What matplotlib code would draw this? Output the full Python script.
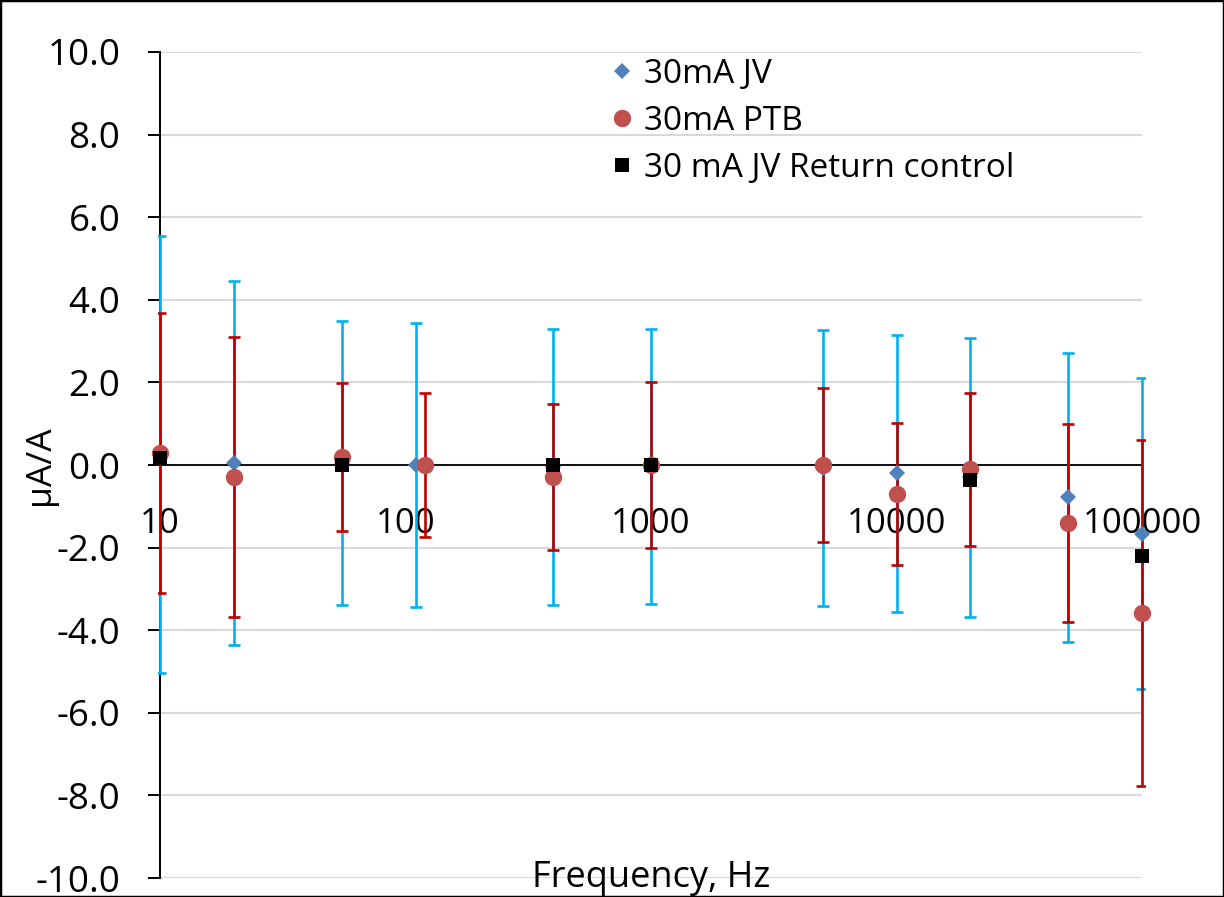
import matplotlib
matplotlib.use("Agg")
import matplotlib.pyplot as plt
import numpy as np
from matplotlib.patches import Rectangle
from matplotlib.transforms import Bbox

plt.rcParams['font.family'] = ['Open Sans', 'DejaVu Sans']

# 30mA JV (blue diamonds, light blue error bars)
jv_freq = [10, 20, 55, 110, 400, 1000, 5000, 10000, 20000, 50000, 100000]
jv_val = [0.26, 0.05, 0.05, 0.0, -0.04, -0.03, -0.08, -0.2, -0.3, -0.78, -1.66]
jv_err = [5.29, 4.4, 3.44, 3.43, 3.34, 3.33, 3.34, 3.35, 3.38, 3.5, 3.77]

# 30mA PTB (red circles, dark red error bars)
ptb_freq = [10, 20, 55, 120, 400, 1000, 5000, 10000, 20000, 50000, 100000]
ptb_val = [0.3, -0.3, 0.2, 0.0, -0.3, 0.0, 0.0, -0.7, -0.1, -1.4, -3.59]
ptb_err = [3.39, 3.39, 1.79, 1.75, 1.77, 2.0, 1.87, 1.71, 1.85, 2.39, 4.19]

# 30 mA JV Return control (black squares)
rc_freq = [10, 55, 400, 1000, 20000, 100000]
rc_val = [0.16, 0.0, 0.0, 0.0, -0.37, -2.21]

x_ticks = [10, 100, 1000, 10000, 100000]
x_labels = ['10', '100', '1000', '10000', '100000']
y_ticks = [-10, -8, -6, -4, -2, 0, 2, 4, 6, 8, 10]
y_labels = ['%.1f' % v for v in y_ticks]

fig = plt.figure(figsize=(12.24, 8.97), dpi=100)
ax = fig.add_axes([160 / 1224, 19 / 897, 982 / 1224, 826 / 897])

# error bars first, red on top of blue, both over the left spine
eb_jv = ax.errorbar(jv_freq, jv_val, yerr=jv_err, fmt='none', ecolor='#00B0F0',
                    elinewidth=1.9, capsize=4.5, capthick=1.9, zorder=2.6)
eb_ptb = ax.errorbar(ptb_freq, ptb_val, yerr=ptb_err, fmt='none', ecolor='#C00000',
                     elinewidth=1.9, capsize=4.5, capthick=1.9, zorder=2.7)

# clip error bars a little outside the plot area so edge bars are whole
clip = Bbox.from_extents(158, 0, 1145, 897)
for eb in (eb_jv, eb_ptb):
    for art in eb.lines[1] + eb.lines[2]:
        art.set_clip_box(clip)

ax.plot(jv_freq, jv_val, 'D', color='#4F81BD', ms=8.5, mew=0,
        label='30mA JV', zorder=4, clip_on=False)
ax.plot(ptb_freq, ptb_val, 'o', color='#C0504D', ms=12.5, mew=0,
        label='30mA PTB', zorder=5, clip_on=False)
ax.plot(rc_freq, rc_val, 's', color='black', ms=10.5, mew=0,
        label='30 mA JV Return control', zorder=6, clip_on=False)

ax.set_xscale('log')
ax.set_xlim(10, 100000)
ax.set_ylim(-10, 10)
ax.set_xticks(x_ticks)
ax.set_xticklabels(x_labels)
ax.xaxis.set_minor_locator(matplotlib.ticker.NullLocator())
ax.set_yticks(y_ticks)
ax.set_yticklabels(y_labels)

ax.grid(axis='y', color='#D9D9D9', linewidth=1.5, zorder=0)
ax.set_axisbelow(True)

ax.spines['top'].set_visible(False)
ax.spines['right'].set_visible(False)
ax.spines['bottom'].set_position(('data', 0))
ax.spines['bottom'].set_linewidth(1.3)
ax.spines['left'].set_linewidth(1.4)

ax.tick_params(axis='x', length=0, pad=30, labelsize=25)
ax.tick_params(axis='y', direction='out', length=8.5, width=1.4, pad=20, labelsize=26.5)

ax.set_ylabel('μA/A', fontsize=25.5)
ax.yaxis.set_label_coords(-0.105, 0.5)
ax.text(0.5, -0.011, 'Frequency, Hz', transform=ax.transAxes,
        ha='center', va='baseline', fontsize=26)

ax.legend(loc='upper left', bbox_to_anchor=(607 / 1224, 839 / 897),
          bbox_transform=fig.transFigure, frameon=False, fontsize=24,
          handlelength=0.9, handletextpad=0.2, borderpad=0, borderaxespad=0,
          labelspacing=0.42)

fig.patches.append(Rectangle((0, 0), 1, 1, transform=fig.transFigure,
                             fill=False, edgecolor='black', linewidth=2.5))

fig.savefig('out.png', dpi=100)
